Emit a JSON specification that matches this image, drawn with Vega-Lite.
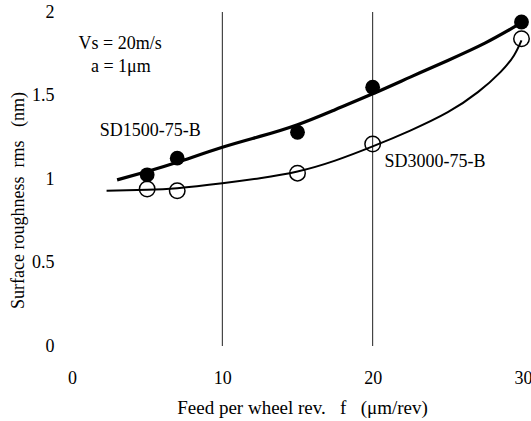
{
  "$schema": "https://vega.github.io/schema/vega-lite/v6.json",
  "width": 451,
  "height": 334,
  "autosize": {"type": "none"},
  "padding": {"left": 72, "top": 12, "right": 8, "bottom": 75},
  "background": "white",
  "config": {
    "font": "Times New Roman, Liberation Serif, serif",
    "view": {"stroke": null},
    "axis": {"labelFont": "Times New Roman, Liberation Serif, serif", "titleFont": "Times New Roman, Liberation Serif, serif"},
    "text": {"font": "Times New Roman, Liberation Serif, serif"}
  },
  "datasets": {
    "grid": [{"x": 10, "y": 0, "y2": 2}, {"x": 20, "y": 0, "y2": 2}],
    "fit1500": [
      {"x": 3.0, "y": 0.995}, {"x": 5, "y": 1.045}, {"x": 7, "y": 1.10}, {"x": 10, "y": 1.19},
      {"x": 12.5, "y": 1.255}, {"x": 15, "y": 1.325}, {"x": 17.5, "y": 1.415}, {"x": 20, "y": 1.51},
      {"x": 22.5, "y": 1.61}, {"x": 25, "y": 1.71}, {"x": 27.5, "y": 1.815}, {"x": 29.8, "y": 1.93}
    ],
    "fit3000": [
      {"x": 2.3, "y": 0.93}, {"x": 5, "y": 0.935}, {"x": 7, "y": 0.945}, {"x": 10, "y": 0.975},
      {"x": 12.5, "y": 1.005}, {"x": 15, "y": 1.045}, {"x": 17.5, "y": 1.11}, {"x": 20, "y": 1.195},
      {"x": 22.5, "y": 1.29}, {"x": 25, "y": 1.40}, {"x": 27, "y": 1.52}, {"x": 28.5, "y": 1.64},
      {"x": 29.4, "y": 1.74}, {"x": 29.9, "y": 1.83}
    ],
    "pts1500": [
      {"x": 5, "y": 1.025}, {"x": 7, "y": 1.125}, {"x": 15, "y": 1.28}, {"x": 20, "y": 1.55}, {"x": 29.9, "y": 1.94}
    ],
    "pts3000": [
      {"x": 5, "y": 0.94}, {"x": 7, "y": 0.93}, {"x": 15, "y": 1.035}, {"x": 20, "y": 1.21}, {"x": 29.9, "y": 1.84}
    ],
    "notes": [
      {"x": 3.2, "y": 1.81, "text": "Vs = 20m/s"},
      {"x": 3.25, "y": 1.67, "text": "a = 1μm"},
      {"x": 5.2, "y": 1.29, "text": "SD1500-75-B"},
      {"x": 24.15, "y": 1.1, "text": "SD3000-75-B"}
    ]
  },
  "encoding": {
    "x": {
      "field": "x", "type": "quantitative",
      "scale": {"domain": [0, 30], "nice": false, "zero": false},
      "axis": {
        "values": [0, 10, 20, 30], "grid": false, "domain": false, "ticks": false,
        "labelFont": "Times New Roman, Liberation Serif, serif",
        "labelFontSize": 18, "labelColor": "black", "labelPadding": 23, "labelFlush": false,
        "title": "Feed per wheel rev.\u00a0\u00a0\u00a0f\u00a0\u00a0\u00a0(μm/rev)",
        "titleFont": "Times New Roman, Liberation Serif, serif",
        "titleFontSize": 19, "titleFontWeight": "normal", "titleColor": "black",
        "titleX": 230, "titleY": 61, "titleBaseline": "middle"
      }
    },
    "y": {
      "field": "y", "type": "quantitative",
      "scale": {"domain": [0, 2], "nice": false},
      "axis": {
        "values": [0, 0.5, 1, 1.5, 2], "grid": false, "domain": false, "ticks": false,
        "format": "~g",
        "labelFont": "Times New Roman, Liberation Serif, serif",
        "labelFontSize": 18, "labelColor": "black", "labelPadding": 18, "labelFlush": false,
        "title": "Surface roughness\u00a0\u00a0rms\u00a0\u00a0\u00a0(nm)",
        "titleFont": "Times New Roman, Liberation Serif, serif",
        "titleFontSize": 18, "titleFontWeight": "normal", "titleColor": "black",
        "titleX": -54, "titleY": 188, "titleBaseline": "middle", "titleAngle": -90
      }
    }
  },
  "layer": [
    {
      "data": {"name": "grid"},
      "mark": {"type": "rule", "color": "#222", "strokeWidth": 1},
      "encoding": {"y2": {"field": "y2"}}
    },
    {
      "data": {"name": "fit1500"},
      "mark": {"type": "line", "color": "black", "strokeWidth": 3.2, "interpolate": "natural"}
    },
    {
      "data": {"name": "fit3000"},
      "mark": {"type": "line", "color": "black", "strokeWidth": 2, "interpolate": "natural"}
    },
    {
      "data": {"name": "pts1500"},
      "mark": {"type": "point", "shape": "circle", "filled": true, "color": "black", "opacity": 1, "size": 220}
    },
    {
      "data": {"name": "pts3000"},
      "mark": {"type": "point", "shape": "circle", "filled": false, "color": "black", "opacity": 1, "size": 240, "strokeWidth": 1.5}
    },
    {
      "data": {"name": "notes"},
      "mark": {"type": "text", "font": "Times New Roman, Liberation Serif, serif", "fontSize": 18, "color": "black", "align": "center", "baseline": "middle"},
      "encoding": {"text": {"field": "text"}}
    }
  ]
}
